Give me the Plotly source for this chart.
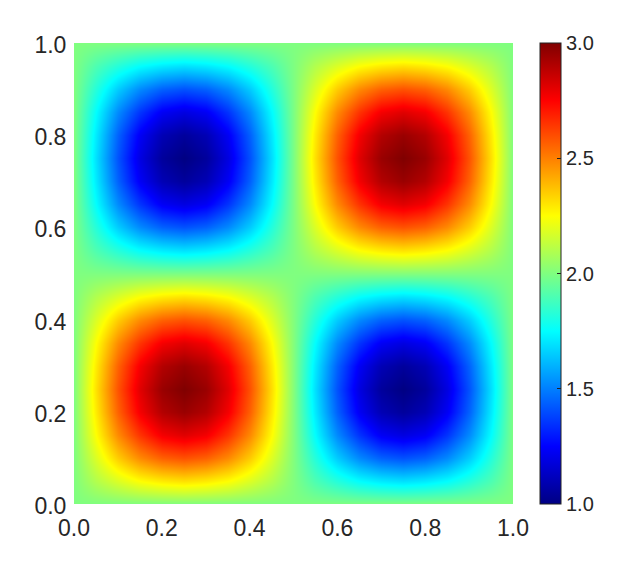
import plotly.graph_objects as go

# grid positions (every 0.05)
x_vals = [0.0, 0.05, 0.1, 0.15, 0.2, 0.25, 0.3, 0.35, 0.4, 0.45, 0.5,
          0.55, 0.6, 0.65, 0.7, 0.75, 0.8, 0.85, 0.9, 0.95, 1.0]
y_vals = x_vals

# colour values, one row per y
row_edge = [2.00] * 21
row_a_up = [2.00, 2.10, 2.18, 2.25, 2.29, 2.31, 2.29, 2.25, 2.18, 2.10, 2.00, 1.90, 1.82, 1.75, 1.71, 1.69, 1.71, 1.75, 1.82, 1.90, 2.00]
row_b_up = [2.00, 2.18, 2.35, 2.48, 2.56, 2.59, 2.56, 2.48, 2.35, 2.18, 2.00, 1.82, 1.65, 1.52, 1.44, 1.41, 1.44, 1.52, 1.65, 1.82, 2.00]
row_c_up = [2.00, 2.25, 2.48, 2.65, 2.77, 2.81, 2.77, 2.65, 2.48, 2.25, 2.00, 1.75, 1.52, 1.35, 1.23, 1.19, 1.23, 1.35, 1.52, 1.75, 2.00]
row_d_up = [2.00, 2.29, 2.56, 2.77, 2.90, 2.95, 2.90, 2.77, 2.56, 2.29, 2.00, 1.71, 1.44, 1.23, 1.10, 1.05, 1.10, 1.23, 1.44, 1.71, 2.00]
row_e_up = [2.00, 2.31, 2.59, 2.81, 2.95, 3.00, 2.95, 2.81, 2.59, 2.31, 2.00, 1.69, 1.41, 1.19, 1.05, 1.00, 1.05, 1.19, 1.41, 1.69, 2.00]
row_a_dn = [2.00, 1.90, 1.82, 1.75, 1.71, 1.69, 1.71, 1.75, 1.82, 1.90, 2.00, 2.10, 2.18, 2.25, 2.29, 2.31, 2.29, 2.25, 2.18, 2.10, 2.00]
row_b_dn = [2.00, 1.82, 1.65, 1.52, 1.44, 1.41, 1.44, 1.52, 1.65, 1.82, 2.00, 2.18, 2.35, 2.48, 2.56, 2.59, 2.56, 2.48, 2.35, 2.18, 2.00]
row_c_dn = [2.00, 1.75, 1.52, 1.35, 1.23, 1.19, 1.23, 1.35, 1.52, 1.75, 2.00, 2.25, 2.48, 2.65, 2.77, 2.81, 2.77, 2.65, 2.48, 2.25, 2.00]
row_d_dn = [2.00, 1.71, 1.44, 1.23, 1.10, 1.05, 1.10, 1.23, 1.44, 1.71, 2.00, 2.29, 2.56, 2.77, 2.90, 2.95, 2.90, 2.77, 2.56, 2.29, 2.00]
row_e_dn = [2.00, 1.69, 1.41, 1.19, 1.05, 1.00, 1.05, 1.19, 1.41, 1.69, 2.00, 2.31, 2.59, 2.81, 2.95, 3.00, 2.95, 2.81, 2.59, 2.31, 2.00]

z_rows = [
    row_edge, row_a_up, row_b_up, row_c_up, row_d_up, row_e_up,
    row_d_up, row_c_up, row_b_up, row_a_up, row_edge,
    row_a_dn, row_b_dn, row_c_dn, row_d_dn, row_e_dn,
    row_d_dn, row_c_dn, row_b_dn, row_a_dn, row_edge,
]

axis_ticks = [0.0, 0.2, 0.4, 0.6, 0.8, 1.0]
bar_ticks = [1.0, 1.5, 2.0, 2.5, 3.0]

jet = [
    [0.0, "#000083"],
    [0.125, "#0000ff"],
    [0.375, "#00ffff"],
    [0.625, "#ffff00"],
    [0.875, "#ff0000"],
    [1.0, "#800000"],
]

text_col = "#262626"
font_name = "Liberation Sans, Arial, sans-serif"
fig_w = 634  # page body adds 8px on each side
fig_h = 559

fig = go.Figure()
fig.add_trace(go.Heatmap(
    x=x_vals, y=y_vals, z=z_rows,
    zmin=1, zmax=3, zsmooth="best",
    colorscale=jet,
    colorbar=dict(
        thicknessmode="pixels", thickness=21,
        lenmode="fraction", len=1,
        x=532 / fig_w, xref="container", xanchor="left", xpad=0,
        y=0.5, yanchor="middle", ypad=0,
        outlinecolor="#222222", outlinewidth=1, borderwidth=0,
        tickmode="array", tickvals=bar_ticks, ticktext=["%.1f" % t for t in bar_ticks],
        ticks="inside", ticklen=4, tickwidth=1, tickcolor="#222222",
        tickfont=dict(family=font_name, size=20, color=text_col),
    ),
))

fig.update_layout(
    width=fig_w, height=fig_h,
    margin=dict(l=66, r=129, t=35, b=63, pad=0, autoexpand=False),
    paper_bgcolor="white", plot_bgcolor="white",
    font=dict(family=font_name, size=23, color=text_col),
    xaxis=dict(
        range=[0, 1], tickmode="array", tickvals=axis_ticks,
        ticktext=["%.1f" % t for t in axis_ticks],
        ticks="outside", ticklen=3, tickcolor="rgba(0,0,0,0)",
        showgrid=False, zeroline=False, showline=False, automargin=False,
    ),
    yaxis=dict(
        range=[0, 1], tickmode="array", tickvals=axis_ticks,
        ticktext=["%.1f" % t for t in axis_ticks],
        ticks="outside", ticklen=2, tickcolor="rgba(0,0,0,0)",
        ticklabelshift=2,
        showgrid=False, zeroline=False, showline=False, automargin=False,
    ),
)

fig.write_html("out.html")
